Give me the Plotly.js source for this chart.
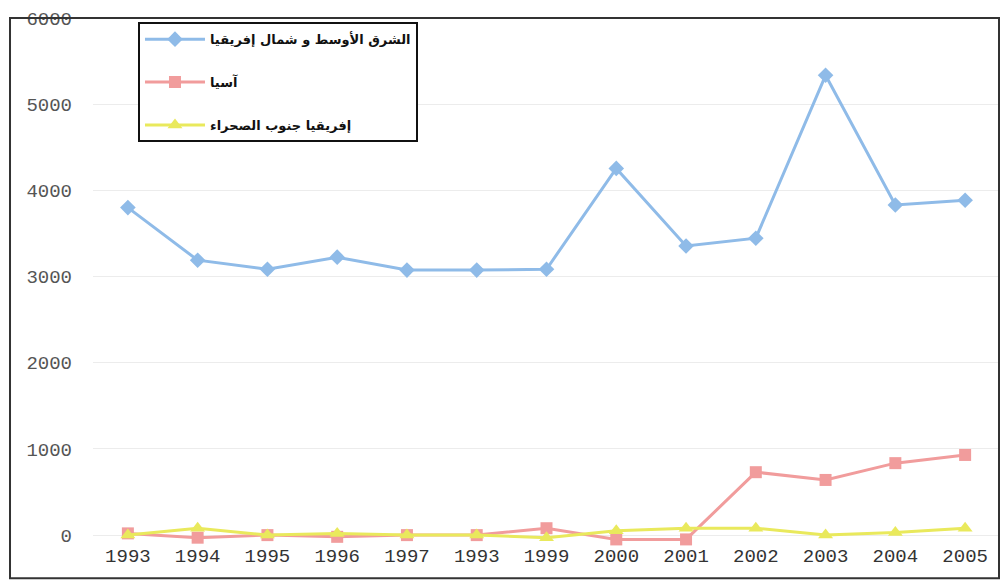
<!DOCTYPE html>
<html>
<head>
<meta charset="utf-8">
<script src="https://cdn.plot.ly/plotly-3.0.1.min.js"></script>
<style>html,body{margin:0;padding:0;background:#fff;}#chart{width:1003px;height:585px;}</style>
</head>
<body>
<div id="chart"></div>
<script>
const years = ['1993','1994','1995','1996','1997','1998','1999','2000','2001','2002','2003','2004','2005'];
const tickLabels = ['1993','1994','1995','1996','1997','1993','1999','2000','2001','2002','2003','2004','2005'];
const seriesNames = ['الشرق الأوسط و شمال إفريقيا', 'آسيا', 'إفريقيا جنوب الصحراء'];
const menaValues = [3800, 3190, 3085, 3225, 3075, 3075, 3085, 4255, 3355, 3445, 5335, 3830, 3885];
const asiaValues = [20, -30, 0, -20, 0, 0, 80, -50, -50, 730, 640, 835, 930];
const ssaValues = [0, 80, 0, 20, 0, 0, -30, 50, 80, 80, 0, 30, 80];
const yTicks = [0, 1000, 2000, 3000, 4000, 5000, 6000];

const colors = ['#8FBBE8', '#F19C9C', '#E9E95C'];
const symbols = ['diamond', 'square', 'triangle-up'];
const values = [menaValues, asiaValues, ssaValues];

const traces = values.map((v, i) => ({
  x: years,
  y: v,
  name: '<b>' + seriesNames[i] + '</b>',
  type: 'scatter',
  mode: 'lines+markers',
  legendgroup: 'g' + i,
  line: {color: colors[i], width: 3},
  marker: {color: colors[i], symbol: symbols[i], size: i === 2 ? 13 : 12},
  cliponaxis: false
}));

const layout = {
  width: 1003,
  height: 585,
  margin: {l: 93, r: 3, t: 18, b: 43},
  paper_bgcolor: '#fff',
  plot_bgcolor: '#fff',
  showlegend: true,
  legend: {
    x: 0.0496, y: 0.992, xanchor: 'left', yanchor: 'top',
    bordercolor: '#111', borderwidth: 2, bgcolor: '#fff',
    traceorder: 'grouped', tracegroupgap: 23,
    itemwidth: 60,
    font: {family: 'DejaVu Sans', size: 13, color: '#111'}
  },
  xaxis: {
    type: 'category',
    tickvals: years,
    ticktext: tickLabels,
    range: [-0.5, 12.5],
    showgrid: false,
    zeroline: false,
    showline: false,
    ticks: '',
    tickfont: {family: 'Liberation Mono', size: 19, color: '#333'}
  },
  yaxis: {
    range: [-80, 6000],
    tickvals: yTicks,
    ticktext: yTicks.map(String),
    showgrid: true,
    gridcolor: '#ececec',
    gridwidth: 1,
    zeroline: false,
    showline: false,
    ticks: '',
    ticklabelstandoff: 20,
    tickfont: {family: 'Liberation Mono', size: 19, color: '#555'}
  },
  shapes: [{
    type: 'rect', xref: 'paper', yref: 'paper',
    x0: -0.0915, x1: 0.9989, y0: -0.069, y1: 1.0,
    line: {color: '#333', width: 2}
  }]
};

Plotly.newPlot('chart', traces, layout, {displayModeBar: false, staticPlot: true});
</script>
</body>
</html>
